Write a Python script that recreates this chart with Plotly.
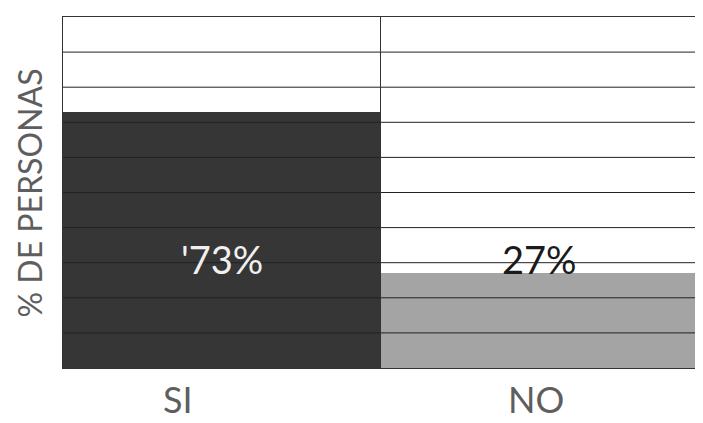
import plotly.graph_objects as go

categories = ["SI", "NO"]
values = [73, 27]
labels = ["'73%", "27%"]
grid_ticks = [10, 20, 30, 40, 50, 60, 70, 80, 90]
y_title = "% DE PERSONAS"

# styling / layout (not data)
bar_colors = ["#363636", "#a4a4a4"]
label_colors = ["#f0f0f0", "#1a1a1a"]
cat_label_xshift = [-44, -3]
label_y = 31
font_fam = "Lato"

fig = go.Figure()
fig.add_trace(go.Bar(
    x=categories, y=values,
    marker=dict(color=bar_colors, line=dict(width=0)),
    width=1.0, hoverinfo="skip",
))

for c, lab, col in zip(categories, labels, label_colors):
    fig.add_annotation(x=c, y=label_y, text=lab, showarrow=False,
                       xanchor="center", yanchor="middle",
                       font=dict(family=font_fam, size=38, color=col))

for c, dx in zip(categories, cat_label_xshift):
    fig.add_annotation(x=c, xref="x", yref="paper", y=-0.088, text=c,
                       showarrow=False, xanchor="center", yanchor="middle",
                       xshift=dx, font=dict(family=font_fam, size=36, color="#5e5e5e"))

fig.add_annotation(xref="paper", yref="paper", x=-0.052, y=0.5, text=y_title,
                   textangle=-90, showarrow=False, xanchor="center", yanchor="middle",
                   font=dict(family=font_fam, size=32, color="#5e5e5e"))

for t in grid_ticks:
    fig.add_shape(type="line", xref="paper", yref="y", x0=0, x1=1, y0=t, y1=t,
                  line=dict(color="#222222", width=1), layer="above")
fig.add_shape(type="line", xref="x", yref="paper", x0=0.5, x1=0.5, y0=0, y1=1,
              line=dict(color="#333333", width=1), layer="above")

fig.update_layout(
    width=695, height=415,
    margin=dict(l=55, r=5, t=9, b=55, autoexpand=False),
    paper_bgcolor="white", plot_bgcolor="white",
    bargap=0, showlegend=False,
    font=dict(family=font_fam, color="#5e5e5e"),
)
fig.update_xaxes(
    range=[-0.5, 1.5], showgrid=False, showline=True, mirror=True,
    linecolor="#333333", linewidth=1, ticks="", showticklabels=False,
)
fig.update_yaxes(
    range=[0, 100], showgrid=False, showline=True, mirror=True,
    linecolor="#333333", linewidth=1, showticklabels=False, ticks="",
)

fig.write_html("out.html")
